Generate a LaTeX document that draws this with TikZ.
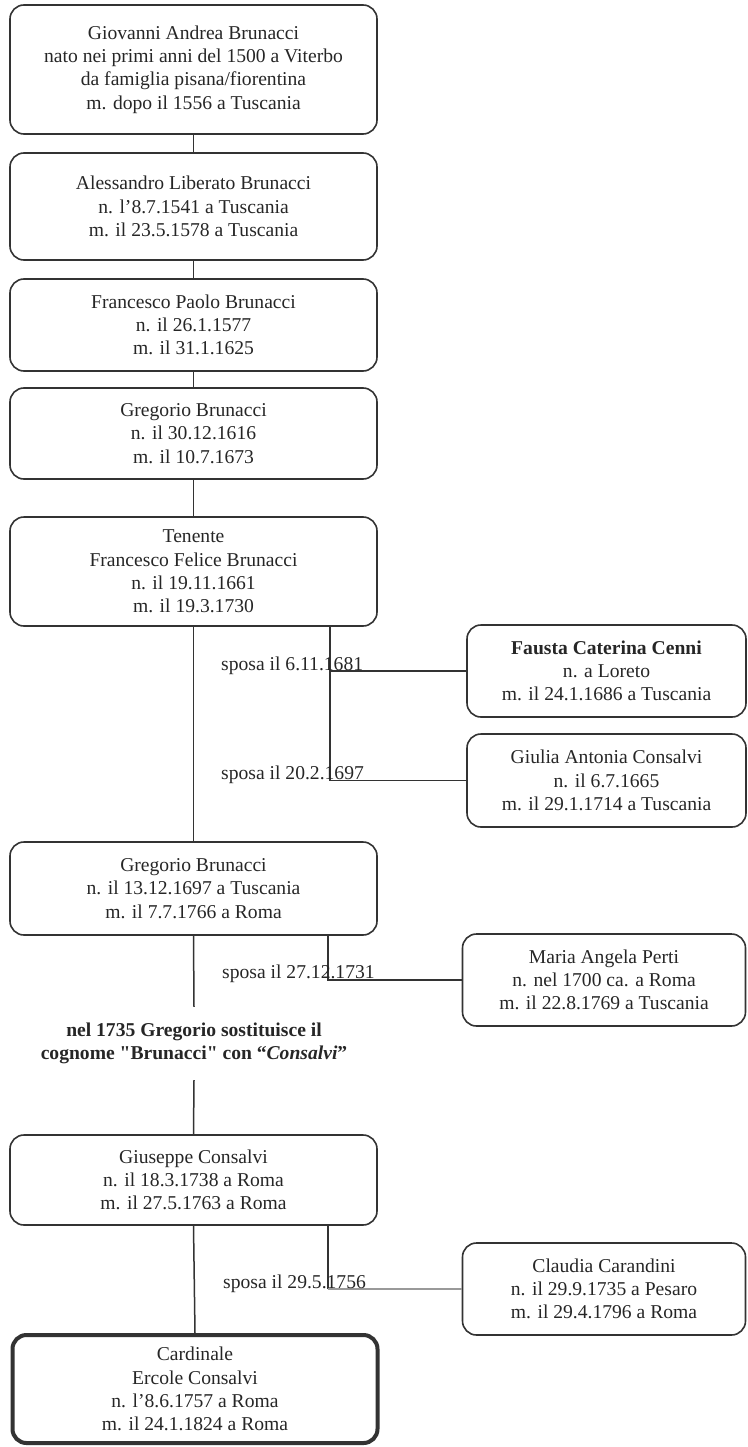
\documentclass[tikz,border=0pt]{standalone}
\usepackage{fontspec}
\setmainfont{Liberation Serif}
\newfontfamily\qfont{Liberation Serif}
\begin{document}
\begin{tikzpicture}[x=1pt,y=-1pt,
  every node/.style={font=\fontsize{19.6}{23.3}\selectfont, text=black!85},
  pbox/.style={draw=black!80, line width=1.6pt, rounded corners=14pt, align=center, inner sep=0pt},
  mainbox/.style={pbox, line width=4pt},
  link/.style={draw=black!80, line width=1.5pt},
  greylink/.style={draw=black!40, line width=1.5pt},
  lab/.style={anchor=base west, inner sep=0pt}
]
\useasboundingbox (0,0) rectangle (747,1447);

\node[pbox, minimum width=367, minimum height=129] (b1) at (193.5,69.5)
 {Giovanni Andrea Brunacci\\nato nei primi anni del 1500 a Viterbo\\da famiglia pisana/fiorentina\\m. dopo il 1556 a Tuscania};
\node[pbox, minimum width=367, minimum height=107] (b2) at (193.5,206.5)
 {Alessandro Liberato Brunacci\\n. l'8.7.1541 a Tuscania\\m. il 23.5.1578 a Tuscania};
\node[pbox, minimum width=367, minimum height=92] (b3) at (193.5,325)
 {Francesco Paolo Brunacci\\n. il 26.1.1577\\m. il 31.1.1625};
\node[pbox, minimum width=367, minimum height=91] (b4) at (193.5,433.5)
 {Gregorio Brunacci\\n. il 30.12.1616\\m. il 10.7.1673};
\node[pbox, minimum width=367, minimum height=109] (b5) at (193.5,571.5)
 {Tenente\\Francesco Felice Brunacci\\n. il 19.11.1661\\m. il 19.3.1730};
\node[pbox, minimum width=367, minimum height=93] (b6) at (193.5,888.5)
 {Gregorio Brunacci\\n. il 13.12.1697 a Tuscania\\m. il 7.7.1766 a Roma};
\node[align=center, inner sep=0pt, minimum height=73] (note) at (194,1043.5)
 {\textbf{nel 1735 Gregorio sostituisce il}\\\textbf{cognome {\qfont"}Brunacci{\qfont"} con “\textit{Consalvi}”}};
\node[pbox, minimum width=367, minimum height=90] (b7) at (193.5,1180)
 {Giuseppe Consalvi\\n. il 18.3.1738 a Roma\\m. il 27.5.1763 a Roma};
\node[mainbox, minimum width=365, minimum height=108] (b8) at (195,1389)
 {Cardinale\\Ercole Consalvi\\n. l'8.6.1757 a Roma\\m. il 24.1.1824 a Roma};

\node[pbox, minimum width=279, minimum height=92] (s1) at (606.5,671)
 {\textbf{Fausta Caterina Cenni}\\n. a Loreto\\m. il 24.1.1686 a Tuscania};
\node[pbox, minimum width=279, minimum height=93] (s2) at (606.5,780.5)
 {Giulia Antonia Consalvi\\n. il 6.7.1665\\m. il 29.1.1714 a Tuscania};
\node[pbox, minimum width=283, minimum height=92] (s3) at (604,980)
 {Maria Angela Perti\\n. nel 1700 ca. a Roma\\m. il 22.8.1769 a Tuscania};
\node[pbox, minimum width=283, minimum height=92] (s4) at (604,1289)
 {Claudia Carandini\\n. il 29.9.1735 a Pesaro\\m. il 29.4.1796 a Roma};

% main line
\draw[link] (b1.south) -- (b2.north);
\draw[link] (b2.south) -- (b3.north);
\draw[link] (b3.south) -- (b4.north);
\draw[link] (b4.south) -- (b5.north);
\draw[link] (b5.south) -- (b6.north);
\draw[link] (b6.south) -- (note.north);
\draw[link] (note.south) -- (b7.north);
\draw[link] (b7.south) -- (b8.north);

% spouses
\coordinate (j1) at (330,671);
\coordinate (j3) at (328,980);
\coordinate (j4) at (328,1289);
\draw[link] (j1 |- b5.south) -- (j1 |- s2.west) -- (s2.west);
\draw[link] (j1) -- (s1.west);
\draw[link] (j3 |- b6.south) -- (j3) -- (s3.west);
\draw[link] (j4 |- b7.south) -- (j4);
\draw[greylink] (j4) -- (s4.west);

\node[lab] (l1) at (221,670) {sposa il 6.11.1681};
\node[lab] (l2) at (221,779) {sposa il 20.2.1697};
\node[lab] (l3) at (222,978) {sposa il 27.12.1731};
\node[lab] (l4) at (223,1288) {sposa il 29.5.1756};
\end{tikzpicture}
\end{document}
